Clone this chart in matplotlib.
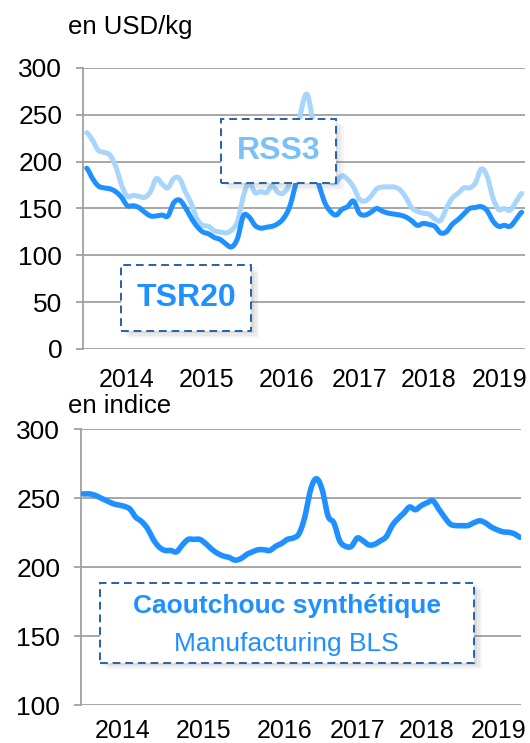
import numpy as np
import matplotlib
matplotlib.use("Agg")
import matplotlib.pyplot as plt
from matplotlib.patches import Rectangle

plt.rcParams['font.family'] = ['Liberation Sans', 'DejaVu Sans']

# monthly prices, USD/kg (x100)
tsr20 = [193, 182, 174, 172, 171, 168, 162, 153, 153, 151,
         146, 142, 142, 143, 142, 156, 159, 151, 140, 131,
         125, 123, 119, 117, 112, 109, 118, 142, 141, 132,
         129, 130, 131, 134, 140, 152, 175, 198, 208, 195,
         176, 157, 147, 143, 149, 152, 158, 145, 143, 146,
         150, 147, 145, 144, 143, 141, 137, 132, 134, 133,
         131, 124, 125, 133, 138, 144, 150, 151, 152, 148,
         137, 131, 132, 131, 138, 146]
rss3 = [231, 223, 212, 210, 207, 195, 175, 163, 164, 163,
        162, 168, 182, 176, 172, 182, 182, 168, 156, 139,
        132, 131, 126, 125, 124, 127, 136, 163, 178, 167,
        168, 167, 174, 167, 167, 178, 212, 255, 272, 242,
        205, 185, 178, 178, 185, 181, 173, 160, 158, 163,
        171, 173, 173, 173, 170, 162, 151, 147, 145, 144,
        139, 137, 150, 161, 166, 172, 172, 177, 192, 185,
        162, 149, 150, 148, 157, 166]
# synthetic rubber index
synth = [253, 253, 252, 250, 248, 246, 245, 244, 242, 236,
         233, 228, 220, 214.5, 212, 212, 211, 216, 220, 220,
         220, 217, 213, 210, 208, 207, 205, 206, 209, 211,
         212.5, 212.5, 212, 215, 217, 220, 221, 224, 236, 256,
         264, 256, 237, 232, 219, 215, 215, 221, 219, 216,
         216.5, 219, 222, 230, 235, 239, 243.5, 241.5, 244.5, 246.5,
         248, 242, 236, 231, 230, 230, 230, 232, 233.5, 232,
         229, 227, 225.5, 225.2, 224, 221.5]

years = ['2014', '2015', '2016', '2017', '2018', '2019']
year_pos = [6.8, 20.6, 34.5, 47.0, 59.0, 71.2]

dark = '#1E90FF'
light = '#A8D5FB'
edge = '#2462AE'
grid_c = '#A0A0A0'


def smooth(y, n=8):
    # Catmull-Rom curve through every monthly point
    y = np.asarray(y, dtype=float)
    p = np.concatenate([[y[0]], y, [y[-1]]])
    t = np.linspace(0, 1, n, endpoint=False)
    xs, ys = [], []
    for i in range(len(y) - 1):
        p0, p1, p2, p3 = p[i], p[i + 1], p[i + 2], p[i + 3]
        ys.append(0.5 * (2 * p1 + (p2 - p0) * t
                         + (2 * p0 - 5 * p1 + 4 * p2 - p3) * t ** 2
                         + (3 * p1 - p0 - 3 * p2 + p3) * t ** 3))
        xs.append(i + t)
    xs.append([len(y) - 1])
    ys.append([y[-1]])
    return np.concatenate(xs), np.concatenate(ys)


fig = plt.figure(figsize=(5.3, 7.43), dpi=100)
ax1 = fig.add_axes([0.1566, 0.5303, 0.834, 0.3782])
ax2 = fig.add_axes([0.1528, 0.0511, 0.830, 0.3715])


def style(ax, ylim, step, xpad):
    ax.set_ylim(*ylim)
    ax.set_yticks(np.arange(ylim[0], ylim[1] + 1, step))
    ax.set_xticks(year_pos)
    ax.set_xticklabels(years)
    ax.yaxis.grid(True, color=grid_c, lw=1.3)
    ax.set_axisbelow(True)
    for s in ['top', 'right', 'bottom']:
        ax.spines[s].set_visible(False)
    ax.spines['left'].set_color(grid_c)
    ax.spines['left'].set_linewidth(1.3)
    ax.tick_params(axis='y', length=5, width=1.3, color=grid_c, pad=10,
                   labelsize=19)
    ax.tick_params(axis='x', length=0, pad=xpad, labelsize=18)


def box(ax, x0, y0, x1, y1):
    for k, a in enumerate([0.10, 0.08, 0.06]):
        d = 0.006 * (k + 1)
        ax.add_patch(Rectangle((x0 + d, y0 - d * 1.4), x1 - x0, y1 - y0,
                               transform=ax.transAxes, facecolor='#606060',
                               edgecolor='none', alpha=a, zorder=5,
                               clip_on=False))
    ax.add_patch(Rectangle((x0, y0), x1 - x0, y1 - y0, transform=ax.transAxes,
                           facecolor='white', edgecolor=edge, lw=1.4,
                           linestyle=(0, (4, 2.5)), zorder=6, clip_on=False))


line_kw = dict(solid_joinstyle='round', solid_capstyle='round')

# top panel: natural rubber prices
ax1.plot(*smooth(rss3), color=light, lw=3.6, zorder=3, **line_kw)
ax1.plot(*smooth(tsr20), color=dark, lw=3.6, zorder=4, **line_kw)
ax1.set_xlim(-0.64, 75.57)
style(ax1, (0, 300), 50, 14)

box(ax1, 0.312, 0.591, 0.572, 0.819)
ax1.text(0.442, 0.705, 'RSS3', transform=ax1.transAxes, ha='center',
         va='center', color='#7CC0F8', fontsize=23, fontweight='bold',
         zorder=7)
box(ax1, 0.086, 0.064, 0.381, 0.299)
ax1.text(0.2335, 0.18, 'TSR20', transform=ax1.transAxes, ha='center',
         va='center', color=dark, fontsize=23, fontweight='bold',
         zorder=7)

# bottom panel: synthetic rubber
ax2.plot(*smooth(synth), color=dark, lw=4, zorder=3, **line_kw)
ax2.set_xlim(-0.4, 75.1)
style(ax2, (100, 300), 50, 10)

box(ax2, 0.0425, 0.154, 0.894, 0.442)
ax2.text(0.4675, 0.359, 'Caoutchouc synthétique', transform=ax2.transAxes,
         ha='center', va='center', color=dark, fontsize=19,
         fontweight='bold', zorder=7)
ax2.text(0.4675, 0.2225, 'Manufacturing BLS', transform=ax2.transAxes,
         ha='center', va='center', color=dark, fontsize=19,
         zorder=7)

fig.text(0.128, 0.9637, 'en USD/kg', ha='left', va='center', fontsize=18.5)
fig.text(0.128, 0.4535, 'en indice', ha='left', va='center', fontsize=18.5)

fig.savefig('out.png', dpi=100)
